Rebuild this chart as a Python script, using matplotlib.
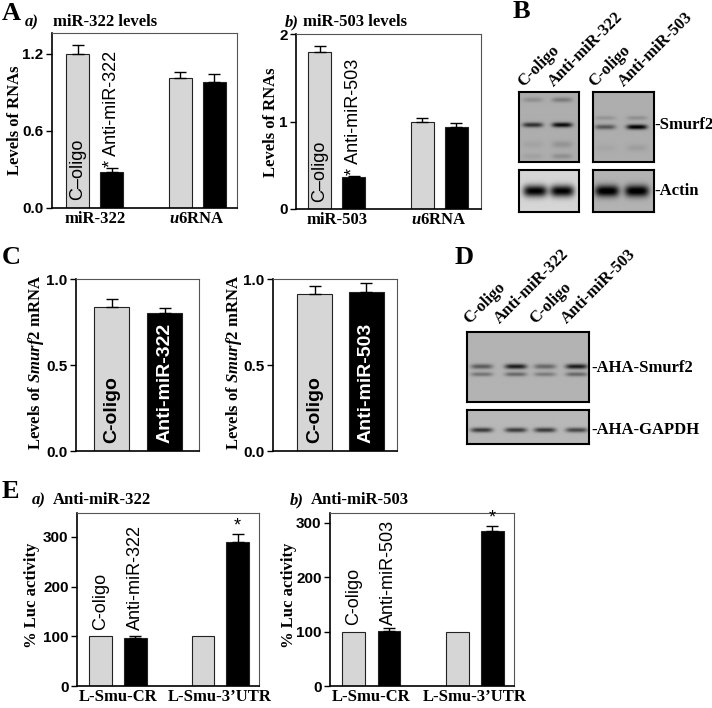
import numpy as np
import matplotlib
matplotlib.use('Agg')
import matplotlib.pyplot as plt

SERIF = 'Liberation Serif'
SANS = 'Liberation Sans'
plt.rcParams['mathtext.fontset'] = 'custom'
plt.rcParams['mathtext.rm'] = 'Liberation Serif:bold'
plt.rcParams['mathtext.it'] = 'Liberation Serif:bold:italic'

# ---- data ----
a_groups = ['miR-322', r'$\mathit{u}$6RNA']
a_coligo = [1.20, 1.01]
a_coligo_err = [0.065, 0.05]
a_anti = [0.28, 0.98]
a_anti_err = [0.03, 0.06]

b_groups = ['miR-503', r'$\mathit{u}$6RNA']
b_coligo = [1.79, 1.00]
b_coligo_err = [0.07, 0.035]
b_anti = [0.37, 0.94]
b_anti_err = [0.01, 0.04]

c_322 = [0.837, 0.80]
c_322_err = [0.045, 0.03]
c_503 = [0.91, 0.925]
c_503_err = [0.05, 0.05]

e_groups = ['L-Smu-CR', 'L-Smu-3’UTR']
e322_coligo = [100, 100]
e322_anti = [97, 290]
e322_anti_err = [4, 15]
e503_coligo = [100, 100]
e503_anti = [102, 284]
e503_anti_err = [4, 11]

# band intensities per lane (western blots)
b_smurf2_322 = [0.5, 0.65]
b_smurf2_503 = [0.35, 0.7]
b_actin_322 = [0.85, 0.85]
b_actin_503 = [0.75, 0.75]
d_smurf2_upper = [0.35, 0.6, 0.3, 0.6]
d_smurf2_lower = [0.25, 0.3, 0.22, 0.3]
d_gapdh = [0.5, 0.5, 0.5, 0.45]

GRAY = '#d6d6d6'
W, H = 712, 708
fig = plt.figure(figsize=(W / 100, H / 100), dpi=100)


def box(x0, y0, x1, y1):
    return fig.add_axes([x0 / W, 1 - y1 / H, (x1 - x0) / W, (y1 - y0) / H])


def label(x, y, s, **kw):
    fig.text(x / W, 1 - y / H, s, **kw)


def style(ax, ylim, yticks, yticklabels):
    ax.set_ylim(*ylim)
    ax.set_yticks(yticks)
    ax.set_yticklabels(yticklabels, fontfamily=SANS, fontweight='bold', fontsize=11)
    ax.tick_params(axis='y', length=4, width=1, pad=2)
    ax.tick_params(axis='x', length=0, pad=2)
    for s in ax.spines.values():
        s.set_linewidth(0.8)
        s.set_color('#555555')
    ax.spines['left'].set_color('black')
    ax.spines['left'].set_linewidth(1.2)
    ax.spines['bottom'].set_color('black')
    ax.spines['bottom'].set_linewidth(1.2)


def bars(ax, pos, vals, errs, color, width):
    ax.bar(pos, vals, width, color=color, edgecolor='#222222', linewidth=0.8)
    if errs is not None:
        ax.errorbar(pos, vals, yerr=[np.zeros(len(errs)), errs], fmt='none',
                    ecolor='black', elinewidth=1, capsize=4, capthick=1)


def blot(ax, bg, lanes, bands, lane_w):
    yy, xx = np.mgrid[0:1:240j, 0:1:240j]
    img = np.full_like(xx, bg)
    for yc, th, inten in bands:
        for xc, a in zip(lanes, inten):
            img -= a * np.exp(-((xx - xc) / lane_w) ** 4 - ((yy - yc) / th) ** 2)
    ax.imshow(np.clip(img, 0, 1), cmap='gray', vmin=0, vmax=1, extent=[0, 1, 1, 0],
              aspect='auto', interpolation='bilinear')
    ax.set_xlim(0, 1)
    ax.set_ylim(1, 0)
    ax.set_xticks([])
    ax.set_yticks([])
    for s in ax.spines.values():
        s.set_linewidth(1.5)


txt_serif = dict(fontfamily=SERIF, fontweight='bold', fontsize=12)

# ---------- Panel A a) ----------
ax = box(52, 33, 237, 208)
x = np.arange(2)
off, w = 0.167, 0.225
bars(ax, x - off, a_coligo, a_coligo_err, GRAY, w)
bars(ax, x + off, a_anti, a_anti_err, 'black', w)
ax.set_xlim(-0.42, 1.39)
style(ax, (0, 1.36), [0, 0.6, 1.2], ['0.0', '0.6', '1.2'])
ax.set_xticks(x)
ax.set_xticklabels(a_groups, **txt_serif)
ax.text(-off, 0.06, 'C–oligo', rotation=90, ha='center', va='bottom', fontfamily=SANS, fontsize=13)
ax.text(off, a_anti[0] + a_anti_err[0] + 0.005, '* Anti-miR-322', rotation=90, ha='center',
        va='bottom', fontfamily=SANS, fontsize=13)
label(15, 120, 'Levels of RNAs', rotation=90, ha='center', va='center', **txt_serif)
label(25, 22, 'a)', ha='left', va='center', fontfamily=SERIF, fontweight='bold', style='italic', fontsize=12)
label(53, 22, 'miR-322 levels', ha='left', va='center', **txt_serif)
label(2, 14, 'A', ha='left', va='center', fontfamily=SERIF, fontweight='bold', fontsize=19)

# ---------- Panel A b) ----------
ax = box(296, 34, 481, 209)
bars(ax, x - off, b_coligo, b_coligo_err, GRAY, w)
bars(ax, x + off, b_anti, b_anti_err, 'black', w)
ax.set_xlim(-0.40, 1.41)
style(ax, (0, 2), [0, 1, 2], ['0', '1', '2'])
ax.set_xticks(x)
ax.set_xticklabels(b_groups, **txt_serif)
ax.text(-off, 0.08, 'C–oligo', rotation=90, ha='center', va='bottom', fontfamily=SANS, fontsize=13)
ax.text(off, b_anti[0] + b_anti_err[0] + 0.005, '* Anti-miR-503', rotation=90, ha='center',
        va='bottom', fontfamily=SANS, fontsize=13)
label(271, 122, 'Levels of RNAs', rotation=90, ha='center', va='center', **txt_serif)
label(285, 22, 'b)', ha='left', va='center', fontfamily=SERIF, fontweight='bold', style='italic', fontsize=12)
label(303, 22, 'miR-503 levels', ha='left', va='center', **txt_serif)

# ---------- Panel B blots ----------
label(513, 12, 'B', ha='left', va='center', fontfamily=SERIF, fontweight='bold', fontsize=19)
ax = box(519, 92, 579, 162)
blot(ax, 0.68, [0.23, 0.72], [(0.11, 0.035, [0.12, 0.2]), (0.47, 0.035, b_smurf2_322),
                              (0.75, 0.05, [0.04, 0.1]), (0.92, 0.04, [0.05, 0.12])], 0.17)
ax = box(593, 92, 654, 162)
blot(ax, 0.68, [0.2, 0.72], [(0.37, 0.03, [0.1, 0.12]), (0.5, 0.035, b_smurf2_503),
                             (0.8, 0.05, [0.03, 0.06])], 0.17)
ax = box(519, 170, 579, 212)
blot(ax, 0.84, [0.27, 0.72], [(0.5, 0.14, b_actin_322)], 0.2)
ax = box(593, 170, 654, 212)
blot(ax, 0.7, [0.23, 0.72], [(0.5, 0.14, b_actin_503)], 0.2)
for xl, s in zip([526, 557, 597, 627], ['C-oligo', 'Anti-miR-322', 'C-oligo', 'Anti-miR-503']):
    label(xl, 90, s, rotation=45, rotation_mode='anchor', ha='left', va='bottom', **txt_serif)
label(654, 125, '-Smurf2', ha='left', va='center', **txt_serif)
label(654, 191, '-Actin', ha='left', va='center', **txt_serif)

# ---------- Panel C ----------
label(2, 257, 'C', ha='left', va='center', fontfamily=SERIF, fontweight='bold', fontsize=19)
ylab_c = r'Levels of $\mathit{Smurf2}$ mRNA'
for (x0, x1, xlim, vals, errs, name, ylx) in [
        (76, 199, (-0.67, 1.65), c_322, c_322_err, 'Anti-miR-322', 36),
        (273, 397, (-0.80, 1.59), c_503, c_503_err, 'Anti-miR-503', 234)]:
    ax = box(x0, 279, x1, 451)
    bars(ax, [0], vals[:1], errs[:1], GRAY, 0.66)
    bars(ax, [1], vals[1:], errs[1:], 'black', 0.66)
    ax.set_xlim(*xlim)
    style(ax, (0, 1.0), [0, 0.5, 1.0], ['0.0', '0.5', '1.0'])
    ax.set_xticks([])
    ax.text(0, 0.045, 'C-oligo', rotation=90, ha='center', va='bottom', fontfamily=SANS,
            fontweight='bold', fontsize=14)
    ax.text(1, 0.045, name, rotation=90, ha='center', va='bottom', fontfamily=SANS,
            fontweight='bold', fontsize=14, color='white')
    label(ylx, 362, ylab_c, rotation=90, ha='center', va='center', **txt_serif)

# ---------- Panel D blots ----------
label(455, 257, 'D', ha='left', va='center', fontfamily=SERIF, fontweight='bold', fontsize=19)
ax = box(467, 332, 589, 402)
blot(ax, 0.7, [0.12, 0.4, 0.64, 0.9], [(0.5, 0.035, d_smurf2_upper), (0.61, 0.03, d_smurf2_lower)], 0.09)
ax = box(467, 410, 589, 444)
blot(ax, 0.72, [0.12, 0.4, 0.64, 0.9], [(0.59, 0.07, d_gapdh)], 0.09)
for xl, s in zip([472, 503, 538, 570], ['C-oligo', 'Anti-miR-322', 'C-oligo', 'Anti-miR-503']):
    label(xl, 327, s, rotation=45, rotation_mode='anchor', ha='left', va='bottom', **txt_serif)
label(591, 368, '-AHA-Smurf2', ha='left', va='center', **txt_serif)
label(591, 430, '-AHA-GAPDH', ha='left', va='center', **txt_serif)

# ---------- Panel E ----------
label(2, 492, 'E', ha='left', va='center', fontfamily=SERIF, fontweight='bold', fontsize=19)
for (x0, x1, ymax, cvals, avals, aerrs, name, ylx, ax_lbl, star_y, ttl_x) in [
        (77, 259, 348, e322_coligo, e322_anti, e322_anti_err, 'Anti-miR-322', 32, 'a)', 322, 32),
        (330, 514, 318, e503_coligo, e503_anti, e503_anti_err, 'Anti-miR-503', 289, 'b)', 309, 290)]:
    ax = box(x0, 513, x1, 686)
    eo, ew = 0.17, 0.22
    bars(ax, x - eo, cvals, None, GRAY, ew)
    bars(ax, x + eo, avals, aerrs, 'black', ew)
    ax.set_xlim(-0.40, 1.38)
    style(ax, (0, ymax), [0, 100, 200, 300], ['0', '100', '200', '300'])
    ax.set_xticks(x)
    ax.set_xticklabels(e_groups, **txt_serif)
    ax.text(-eo, 112, 'C-oligo', rotation=90, ha='center', va='bottom', fontfamily=SANS, fontsize=13)
    ax.text(eo, 112, name, rotation=90, ha='center', va='bottom', fontfamily=SANS, fontsize=13)
    ax.text(1 + eo, star_y, '*', ha='center', va='center', fontfamily=SANS, fontsize=13)
    label(ylx, 595, '% Luc activity', rotation=90, ha='center', va='center', **txt_serif)
    label(ttl_x, 500, ax_lbl, ha='left', va='center', fontfamily=SERIF, fontweight='bold',
          style='italic', fontsize=12)
    label(ttl_x + 21, 500, name, ha='left', va='center', **txt_serif)

fig.savefig('out.png', dpi=100)
